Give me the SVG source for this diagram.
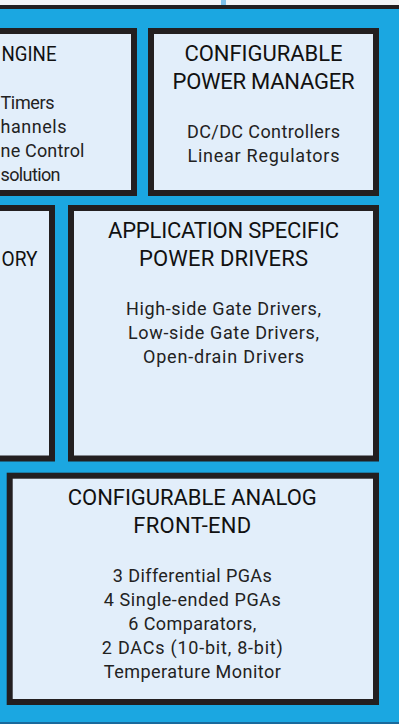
<svg xmlns="http://www.w3.org/2000/svg" width="399" height="724" viewBox="0 0 399 724">
<style>
.box{fill:#e2eefa;stroke:#231f20;stroke-width:6}
.t{font-family:Roboto,"Liberation Sans",sans-serif;font-size:22px;fill:#111;text-anchor:middle}
.b{font-family:Roboto,"Liberation Sans",sans-serif;font-size:18px;fill:#222;text-anchor:middle}
.s{text-anchor:start}
.c{font-size:20px}
</style>
<rect x="0" y="0" width="399" height="724" fill="#ffffff"/>
<rect x="0" y="0" width="399" height="6" fill="#f3f4f6"/>
<rect x="221" y="0" width="5" height="6" fill="#7fc1ea"/>
<rect x="0" y="5" width="399" height="4" fill="#231f20"/>
<rect x="0" y="9" width="399" height="713" fill="#1ba7e1"/>
<rect x="0" y="722" width="399" height="2" fill="#1a6a9c"/>

<g id="engine">
<rect class="box" x="-100" y="31" width="234" height="162"/>
<text class="t s c" x="1.5" y="61" textLength="55" lengthAdjust="spacingAndGlyphs">NGINE</text>
<text class="b s" x="0.5" y="109" textLength="54" lengthAdjust="spacing">Timers</text>
<text class="b s" x="0.5" y="133" textLength="66" lengthAdjust="spacing">hannels</text>
<text class="b s" x="0.5" y="157" textLength="84" lengthAdjust="spacing">ne Control</text>
<text class="b s" x="0.5" y="181" textLength="60" lengthAdjust="spacing">solution</text>
</g>

<g id="power-manager">
<rect class="box" x="151" y="31" width="225" height="162"/>
<text class="t" x="263.5" y="61" textLength="158" lengthAdjust="spacing">CONFIGURABLE</text>
<text class="t" x="263.5" y="89" textLength="182" lengthAdjust="spacing">POWER MANAGER</text>
<text class="b" x="263.5" y="137.5" textLength="153" lengthAdjust="spacing">DC/DC Controllers</text>
<text class="b" x="263.5" y="161.5" textLength="152" lengthAdjust="spacing">Linear Regulators</text>
</g>

<g id="memory">
<rect class="box" x="-100" y="208" width="152" height="250.5"/>
<text class="t s c" x="1.5" y="266" textLength="36" lengthAdjust="spacingAndGlyphs">ORY</text>
</g>

<g id="power-drivers">
<rect class="box" x="71" y="208" width="305" height="250.5"/>
<text class="t" x="223.5" y="238" textLength="231" lengthAdjust="spacing">APPLICATION SPECIFIC</text>
<text class="t" x="223.5" y="266" textLength="169" lengthAdjust="spacing">POWER DRIVERS</text>
<text class="b" x="223.5" y="314.5" textLength="195" lengthAdjust="spacing">High-side Gate Drivers,</text>
<text class="b" x="223.5" y="338.5" textLength="191" lengthAdjust="spacing">Low-side Gate Drivers,</text>
<text class="b" x="223.5" y="362.5" textLength="161" lengthAdjust="spacing">Open-drain Drivers</text>
</g>

<g id="analog-front-end">
<rect class="box" x="9.7" y="475.7" width="366.3" height="226.3"/>
<text class="t" x="192.3" y="505" textLength="249" lengthAdjust="spacing">CONFIGURABLE ANALOG</text>
<text class="t" x="192.3" y="533" textLength="118" lengthAdjust="spacing">FRONT-END</text>
<text class="b" x="192.3" y="581.5" textLength="159" lengthAdjust="spacing">3 Differential PGAs</text>
<text class="b" x="192.3" y="605.5" textLength="177" lengthAdjust="spacing">4 Single-ended PGAs</text>
<text class="b" x="192.3" y="629.5" textLength="128" lengthAdjust="spacing">6 Comparators,</text>
<text class="b" x="192.3" y="653.5" textLength="181" lengthAdjust="spacing">2 DACs (10-bit, 8-bit)</text>
<text class="b" x="192.3" y="677.5" textLength="177" lengthAdjust="spacing">Temperature Monitor</text>
</g>

<g id="connectors"></g>
</svg>
